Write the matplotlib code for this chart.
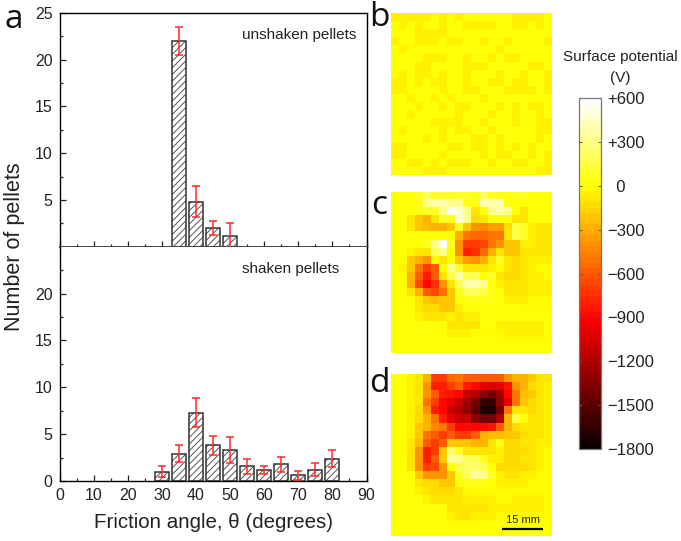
import numpy as np
import matplotlib
matplotlib.use("Agg")
import matplotlib.pyplot as plt
from matplotlib.cm import ScalarMappable
from matplotlib.colors import ListedColormap, Normalize

plt.rcParams['font.family'] = ['Liberation Sans', 'DejaVu Sans']
plt.rcParams['hatch.linewidth'] = 0.7

W, H = 681, 541

# histogram, unshaken pellets
angle_top = [35, 40, 45, 50]
count_top = [22, 4.8, 2, 1.2]
err_top = [1.5, 1.65, 0.75, 1.3]

# histogram, shaken pellets
angle_bot = [30, 35, 40, 45, 50, 55, 60, 65, 70, 75, 80]
count_bot = [1, 2.9, 7.3, 3.8, 3.3, 1.6, 1.2, 1.8, 0.6, 1.2, 2.4]
err_bot = [0.55, 0.9, 1.55, 1.05, 1.4, 0.8, 0.4, 0.8, 0.45, 0.7, 0.9]

# surface potential maps, in units of 100 V
map_b = [
    [-.4,-.4,-.4,-.4,-.4,0,-.4,0,-.4,0,0,0,0,0,0,-.4,-.4,-.4,-.4,0],
    [0,-.4,0,-.4,0,0,-.4,0,0,-.4,-.4,-.4,-.4,0,0,-.4,-.4,0,-.4,0],
    [0,0,0,-.4,-.4,-.4,-.4,0,0,0,0,0,0,0,0,0,0,0,0,0],
    [-.4,0,0,-.4,-.4,-.4,0,-.4,-.4,0,0,-.4,0,0,-.4,0,0,0,.1,-.4],
    [0,-.4,0,0,0,0,0,0,0,0,0,0,0,-.4,0,0,0,.1,0,0],
    [0,0,0,0,-.4,-.4,-.4,0,0,-.4,0,0,-.4,0,-.4,-.4,0,0,0,0],
    [0,0,0,-.4,-.4,0,0,0,0,-.4,-.4,-.4,0,0,0,0,0,-.4,-.4,0],
    [0,-.4,0,-.4,-.4,0,-.4,0,0,-.4,0,0,0,-.4,0,0,-.4,0,0,-.4],
    [-.4,-.4,0,-.4,0,-.4,-.4,0,0,-.4,0,0,-.4,-.4,0,-.4,-.4,0,0,-.4],
    [-.4,-.4,0,0,0,0,-.4,0,0,-.4,-.4,0,0,0,-.4,-.4,-.4,-.4,0,-.4],
    [0,0,-.4,0,0,-.4,0,-.4,0,0,0,-.4,0,0,0,0,0,0,0,0],
    [0,0,0,-.4,0,0,-.4,0,-.4,-.4,0,0,0,-.4,0,-.4,0,-.4,-.4,0],
    [0,0,-.4,0,0,0,0,0,-.4,0,0,0,-.4,0,0,-.4,0,0,-.4,0],
    [0,0,0,0,0,-.4,-.4,-.4,-.4,0,0,-.4,0,0,0,-.4,0,0,-.4,-.4],
    [0,-.4,0,0,0,0,-.4,0,-.4,-.4,0,0,-.4,0,0,.1,0,0,-.4,-.4],
    [0,0,0,0,-.4,0,-.4,0,0,0,-.4,-.4,0,-.4,0,0,0,0,-.4,0],
    [-.4,-.4,0,0,0,0,0,-.4,-.4,0,-.4,-.4,0,-.4,0,-.4,0,-.4,0,0],
    [-.4,-.4,0,0,0,0,-.4,0,0,0,0,-.4,0,-.4,-.4,0,0,-.4,0,-.4],
    [0,0,-.4,-.4,0,-.4,0,-.4,-.4,-.4,0,0,-.4,0,0,-.4,-.4,0,0,-.4],
    [0,0,0,0,-.4,-.4,-.4,0,0,0,0,0,0,0,0,0,0,0,-.4,-.4],
]
map_c = [
    [0,0,0,.8,2,1,1,.8,.8,1,.5,2,1,.5,0,.5,1,0,0,0],
    [0,0,0,.5,3,4,4,3,3,.5,.5,4,4,4,.5,0,0,0,0,0],
    [0,0,0,.5,1,1,3,5.5,4.5,3,-1,0,3,4,3,0,-.8,0,0,0],
    [0,0,-.8,-2,-3,-1,1,1,4.5,3,-1.5,-1,0,0,0,-1,-1,0,0,0],
    [0,0,-.8,-2,-2.5,-3,-3,-2,1,-2,-4,-4.5,-3.5,-3.5,-1.5,1.5,1,-.5,-.8,-.8],
    [0,0,0,0,0,0,0,0,-3,-5,-5.5,-5.5,-5,-5,-1,1.5,1,-.5,-1,-1],
    [0,0,0,0,1,3,6,1,-4,-7,-7,-6.5,-5,-4,-2,-2,-.5,-.5,-1,-1],
    [0,0,-.5,-1,-1,2,3,0,-4,-8,-7.5,-5.5,-3,-1,-2,-2,-.8,-1,-1,-1],
    [0,.3,-2,-3,-4,-.3,-1,0,-2,-3.5,-4,-3,-1,1,-1,-1.2,-1,-.5,-.5,-.5],
    [0,-.5,-2,-5,-7,-6,0,3,1,-.8,-.8,-1,-.5,-.3,-1,-1.5,-1,-.5,-.3,-.3],
    [0,-.3,-3,-6,-8,-6,-1,1.5,4,1.5,2,0,1,-1,-1.5,-1.2,-1,-.5,-.5,-.3],
    [0,0,-3,-6.5,-9,-7.5,-4,-1,2,4,4,3,0,-.5,-1,-1,-.8,-.5,-.5,-.5],
    [0,0,-1,-3,-6,-6.5,-5,-2,1,2,2,1.5,.5,0,-1,-.8,-.8,-.5,-.5,-.5],
    [0,0,0,-1,-2,-2.5,-2,-2,0,.5,.5,.5,.5,0,-.5,-.5,-.5,-.3,-.3,-.3],
    [0,0,0,-1,-1.5,-1.5,-2,-2,-.5,0,0,0,0,0,0,0,-.3,-.3,-.3,-.3],
    [0,0,0,-.5,-1,-1,-1,-.5,-.8,-.5,-.5,0,0,0,0,0,0,0,0,0],
    [0,0,0,0,0,0,0,-.8,-.8,-.8,-.8,0,0,-.5,-.5,-.5,-.5,-.5,-.5,0],
    [0,0,0,0,0,0,0,-.5,-.5,-.5,-.3,-.3,-.3,-.3,-.5,-.5,-.5,-.5,-.5,0],
    [0,0,0,0,0,0,0,0,0,0,0,0,0,-.3,-.3,-.3,-.3,-.3,-.3,-.3],
    [0,0,0,0,0,0,0,0,0,0,0,0,0,0,0,0,0,0,0,0],
]
map_d = [
    [0,0,-.5,-1,-3,-7,-7,-5.5,-5,-6,-6,-6,-6,-6,-4,-3,-3,-2,-.8,-1],
    [0,0,-.5,-1,-4,-8,-8,-7,-6,-8,-9,-10,-10.5,-10,-8.5,-4,-3,-1.5,-1,-.5],
    [0,0,-.5,-1,-4,-6,-8,-8.5,-9,-11,-12,-13.5,-14,-12.5,-9,-5,-2.5,-2,-1,-.5],
    [0,0,-.5,-1,-5,-7,-9,-10,-11,-12.5,-14,-16.5,-16.5,-13,-10,-5,-2,-1.5,-1,-.5],
    [0,0,-.5,-1.5,-4,-8,-9,-11,-12,-13,-15,-17,-17,-14,-5,-1,-1,-1.2,-1,-.5],
    [0,0,-.5,-1.5,-3,-5,-8,-10,-11,-11,-13,-14,-14,-12,-3,1.5,0,-1,-1,-.5],
    [0,0,-.5,-2,-3,-4.5,-5,-7,-9,-9,-9,-9,-8.5,-6,-3,-1.5,-1,-1,-1,-.5],
    [0,0,-.5,-2,-5,-6,-7,-6,-7,-7,-6,-3,-2.5,-2.5,-2,-2,-1.5,-1,-1,-.5],
    [0,-.3,-.8,-2.5,-6,-7,-6,-2,-2,-2,-3,-3,-1,.5,-1.5,-1.5,-1,-.8,-.5,-.5],
    [0,-.3,-.8,-4,-8,-7,-2,2.5,1,-1,-1,-1,-1,-.5,-1.5,-1.2,-1.2,-1,-.5,-.3],
    [0,0,-.8,-4,-8,-6,-2,3.5,3,2,2,1,-.5,-.5,-1.5,-1.5,-1,-1,-.5,-.3],
    [0,0,-1,-4,-7,-6.5,-4,0,1.5,2.5,2.5,2,0,-1.5,-1.5,-1.5,-1.2,-.8,-.5,-.3],
    [0,0,0,-2,-4,-4,-4,-2,1,2,3.5,3,1,-.5,-.8,-.8,-.5,-.5,-.3,-.3],
    [0,0,0,-1,-1.5,-1.5,-2,-2,0,.5,.5,.5,.3,-.5,-.5,-.5,-.5,-.3,-.3,-.3],
    [0,0,0,-.5,-1,-1.5,-1.5,-1.2,-.8,-.3,-.3,-.3,-.3,-.3,-.3,-.3,-.3,-.3,-.3,-.3],
    [0,0,0,0,-.5,-1,-1,-.8,-.8,-.5,-.5,-.5,-.5,-.3,-.3,-.5,-.5,-.5,-.5,-.3],
    [0,0,.2,.2,.2,0,0,-.8,-.8,-.8,-.8,-.8,-.5,-.5,-.5,-.5,-.5,-.5,-.5,-.3],
    [0,0,.2,.2,.2,.2,0,-.5,-.8,-.8,-.5,-.5,-.5,-.3,-.3,-.3,-.3,-.3,-.3,-.3],
    [0,0,0,0,0,0,0,-.3,-.3,-.3,-.3,0,0,0,0,0,0,0,0,0],
    [0,0,0,0,0,0,0,0,0,0,0,0,0,0,0,0,0,0,0,0],
]

cbar_ticks = [600, 300, 0, -300, -600, -900, -1200, -1500, -1800]
cbar_labels = ['+600', '+300', '  0', '\u2212300', '\u2212600', '\u2212900', '\u22121200', '\u22121500', '\u22121800']


def px_axes(fig, x0, y0, x1, y1):
    return fig.add_axes([x0 / W, 1 - y1 / H, (x1 - x0) / W, (y1 - y0) / H])


def histogram(ax, x, y, e):
    # hatch takes the edge colour, so the outline is a second pass
    ax.bar(x, y, width=4.1, facecolor='white', edgecolor='#555555', linewidth=0, hatch='/////', zorder=2)
    ax.bar(x, y, width=4.1, facecolor='none', edgecolor='#333333', linewidth=1.1, zorder=2)
    ax.errorbar(x, y, yerr=e, fmt='none', ecolor='#ff2a2a', elinewidth=1.1, capsize=3, capthick=1.1, zorder=3, clip_on=False)
    ax.set_xlim(0, 90)
    ax.set_ylim(0, 25)
    ax.set_xticks(np.arange(0, 91, 10))
    ax.set_xticks(np.arange(5, 90, 10), minor=True)
    ax.set_yticks(np.arange(2.5, 25, 5), minor=True)
    ax.tick_params(which='major', direction='in', length=4, width=0.9, labelsize=11.5, pad=5, color='#222222', labelcolor='#222222')
    ax.tick_params(which='minor', direction='in', length=2.5, width=0.9, color='#222222')
    for s in ax.spines.values():
        s.set_linewidth(1.0)


fig = plt.figure(figsize=(W / 100, H / 100), dpi=100)

ax_top = px_axes(fig, 59.5, 12.7, 366.5, 246.8)
ax_bot = px_axes(fig, 59.5, 246.8, 366.5, 481)
histogram(ax_top, angle_top, count_top, err_top)
histogram(ax_bot, angle_bot, count_bot, err_bot)
ax_top.set_yticks([5, 10, 15, 20, 25])
ax_top.tick_params(axis='x', which='both', labelbottom=False)
ax_bot.set_yticks([0, 5, 10, 15, 20])
ax_top.spines['bottom'].set_linewidth(1.4)
ax_top.spines['bottom'].set_color('#444444')
ax_bot.spines['top'].set_visible(False)

ax_top.text(0.595, 0.906, 'unshaken pellets', transform=ax_top.transAxes, fontsize=11, color='#222222', va='center')
ax_bot.text(0.595, 0.906, 'shaken pellets', transform=ax_bot.transAxes, fontsize=11, color='#222222', va='center')
ax_bot.set_xlabel('Friction angle, \u03b8 (degrees)', fontsize=14.8, labelpad=7, color='#222222')

fig.text(15 / W, 1 - 247 / H, 'Number of pellets', rotation=90, fontsize=15.5, ha='center', va='center', color='#222222')

# surface potential maps, 0 V lands on pure yellow
hot = plt.get_cmap('hot')
cmap = ListedColormap(np.vstack([hot(np.linspace(0, 0.74, 48)), hot(np.linspace(0.75, 1, 16))]))
norm = Normalize(-1800, 600)
boxes = [(391, 13.3, 552, 175), (391, 191.7, 552, 352.7), (391, 374.3, 552, 535.7)]
for box, grid in zip(boxes, [map_b, map_c, map_d]):
    ax = px_axes(fig, *box)
    ax.imshow(np.array(grid) * 100, cmap=cmap, norm=norm, aspect='auto', interpolation='nearest')
    ax.axis('off')
    last = ax

last.plot([13.3, 18.4], [18.7, 18.7], color='black', lw=1.6, solid_capstyle='butt')
last.text(15.85, 18.2, '15 mm', fontsize=8, ha='center', va='bottom', color='#222222')
last.set_xlim(-0.5, 19.5)
last.set_ylim(19.5, -0.5)

# colour bar
cax = px_axes(fig, 578.5, 98.3, 600.5, 449)
cb = fig.colorbar(ScalarMappable(norm=norm, cmap=cmap), cax=cax, ticks=cbar_ticks)
cb.ax.set_yticklabels(cbar_labels)
cb.ax.tick_params(direction='in', length=2.5, width=0.7, color='#555555', labelsize=12, labelcolor='#222222', pad=5, left=True, right=True)
cb.outline.set_edgecolor('#777777')
cb.outline.set_linewidth(0.9)

fig.text(620 / W, 1 - 56.5 / H, 'Surface potential', fontsize=11, ha='center', va='center', color='#222222')
fig.text(620 / W, 1 - 78 / H, '(V)', fontsize=11, ha='center', va='center', color='#222222')

# panel letters
for letter, x, y in [('a', 14, 19), ('b', 379, 18), ('c', 379, 205), ('d', 379, 384)]:
    fig.text(x / W, 1 - y / H, letter, fontsize=24, ha='center', va='center', family=['Open Sans', 'DejaVu Sans'], color='#111111')

fig.savefig('out.png', dpi=100)
